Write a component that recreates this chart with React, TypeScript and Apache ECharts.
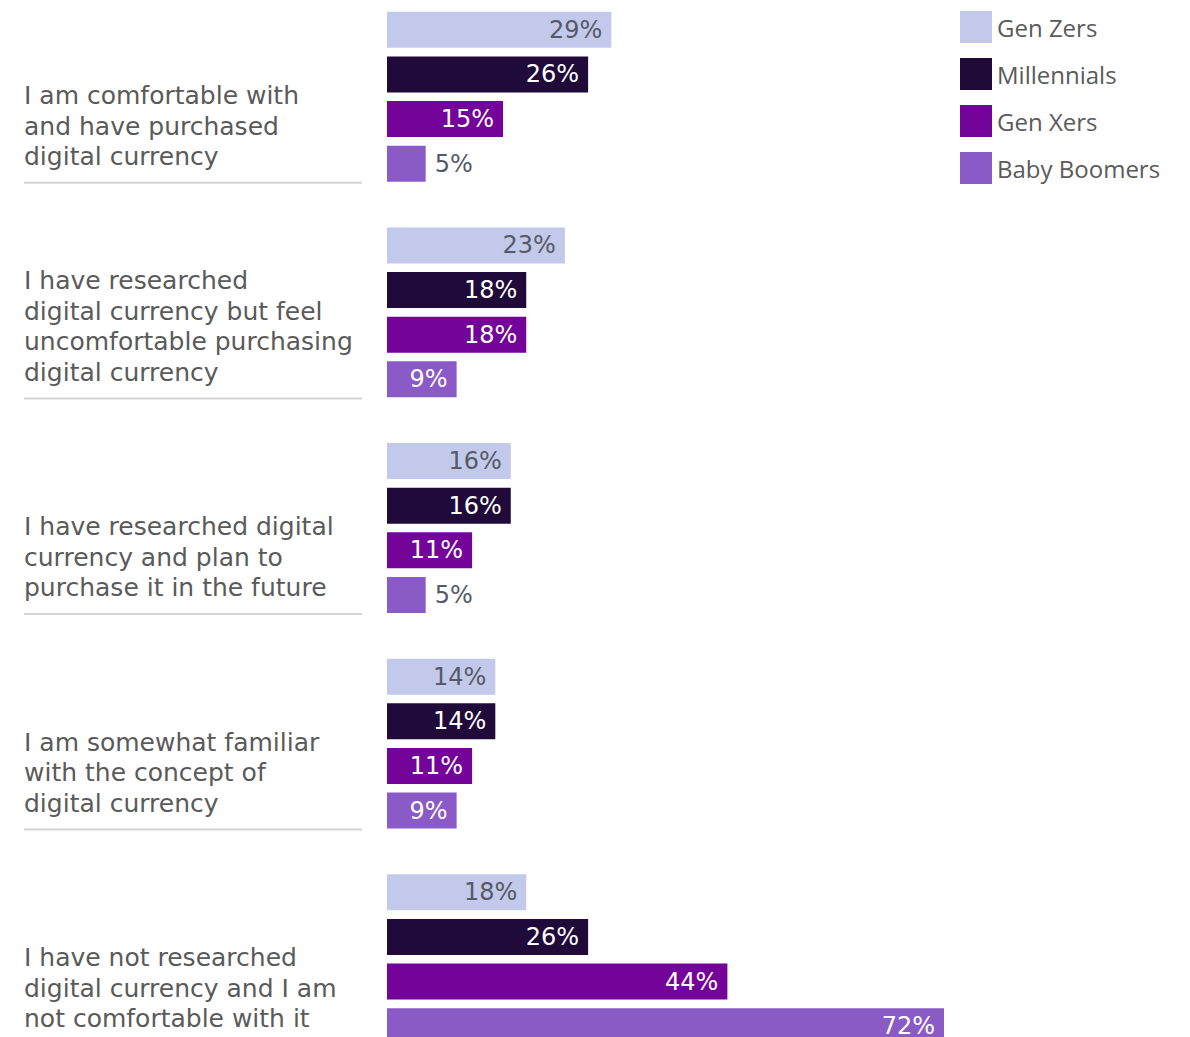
import React, { useEffect, useRef } from "react";
import * as echarts from "echarts";

const categories = [
  "I am comfortable with\nand have purchased\ndigital currency",
  "I have researched\ndigital currency but feel\nuncomfortable purchasing\ndigital currency",
  "I have researched digital\ncurrency and plan to\npurchase it in the future",
  "I am somewhat familiar\nwith the concept of\ndigital currency",
  "I have not researched\ndigital currency and I am\nnot comfortable with it",
];

const seriesNames = ["Gen Zers", "Millennials", "Gen Xers", "Baby Boomers"];
const genZers = [29, 23, 16, 14, 18];
const millennials = [26, 18, 16, 14, 26];
const genXers = [15, 18, 11, 11, 44];
const babyBoomers = [5, 9, 5, 9, 72];

const colors = ["#c3c9ea", "#1f0a3a", "#730399", "#8a5ac6"];
const insideLabelColors = ["#555a66", "#ffffff", "#ffffff", "#ffffff"];

const FONT = "'Open Sans', 'Noto Sans', sans-serif";
const WIDE = "'DejaVu Sans', 'Open Sans', sans-serif";

export default function App() {
  const ref = useRef<HTMLDivElement>(null);

  useEffect(() => {
    if (!ref.current) return;
    const chart = echarts.init(ref.current, undefined, { renderer: "svg" });
    const allValues = [genZers, millennials, genXers, babyBoomers];

    const series = seriesNames.map((name, si) => ({
      name,
      type: "bar",
      barWidth: 36,
      barGap: "24%",
      itemStyle: { color: colors[si] },
      data: allValues[si].map((v) => ({
        value: v,
        label:
          v < 8
            ? { position: "right", color: "#555a66", distance: 9 }
            : { position: "insideRight", color: insideLabelColors[si], distance: 9 },
      })),
      label: {
        show: true,
        formatter: "{c}%",
        fontSize: 24,
        fontFamily: WIDE,
      },
    }));

    chart.setOption({
      animation: false,
      backgroundColor: "#ffffff",
      grid: { left: 387, right: 29.4, top: 0, height: 1078 },
      xAxis: {
        type: "value",
        min: 0,
        max: 100,
        show: false,
      },
      yAxis: {
        type: "category",
        inverse: true,
        data: categories,
        axisLine: { show: false },
        axisTick: { show: false },
        axisLabel: { show: false },
        splitLine: { show: false },
      },
      legend: {
        data: seriesNames,
        orient: "vertical",
        left: 960,
        top: 22,
        padding: 0,
        itemWidth: 32,
        itemHeight: 32,
        itemGap: 15,
        icon: "rect",
        textStyle: { fontSize: 24, color: "#5a5a5a", fontFamily: FONT },
      },
      series,
    });

    const graphics: any[] = [];
    categories.forEach((c, i) => {
      const cy = chart.convertToPixel({ yAxisIndex: 0 }, c) as number;
      graphics.push({
        type: "text",
        x: 24,
        y: cy + 75,
        style: {
          text: c,
          fontSize: 25,
          lineHeight: 30.5,
          fontFamily: WIDE,
          fill: "#5a5a5a",
          verticalAlign: "bottom",
          align: "left",
        },
      });
      graphics.push({
        type: "line",
        shape: { x1: 24, y1: cy + 86, x2: 362, y2: cy + 86 },
        style: { stroke: "#d4d4d4", lineWidth: 2 },
      });
    });
    chart.setOption({ graphic: graphics });

    return () => chart.dispose();
  }, []);

  return (
    <div
      style={{
        position: "fixed",
        left: 0,
        top: 0,
        width: 1190,
        height: 1037,
        overflow: "hidden",
        background: "#ffffff",
      }}
    >
      <div
        ref={ref}
        style={{ position: "absolute", left: 0, top: -11, width: 1190, height: 1100 }}
      />
    </div>
  );
}
